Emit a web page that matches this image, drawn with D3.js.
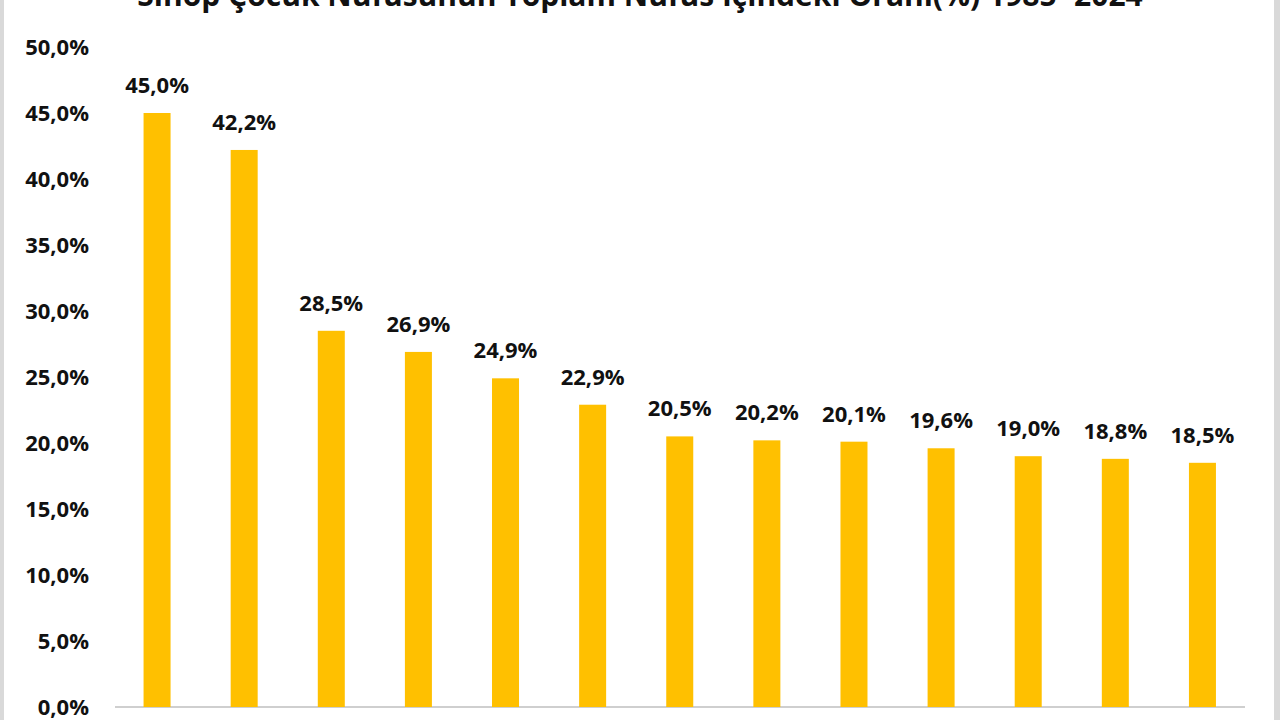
<!DOCTYPE html>
<html>
<head>
<meta charset="utf-8">
<script src="https://cdn.jsdelivr.net/npm/d3@7"></script>
<style>
  html, body { margin: 0; padding: 0; background: #ffffff; overflow: hidden; }
  svg { display: block; }
</style>
</head>
<body>
<svg id="chart" width="1280" height="720"></svg>
<script>
const title = "Sinop Çocuk Nüfusunun Toplam Nüfus İçindeki Oranı(%) 1985- 2024";
const categories = ["c1","c2","c3","c4","c5","c6","c7","c8","c9","c10","c11","c12","c13"];
const values = [45.0, 42.2, 28.5, 26.9, 24.9, 22.9, 20.5, 20.2, 20.1, 19.6, 19.0, 18.8, 18.5];
const yTicks = [0, 5, 10, 15, 20, 25, 30, 35, 40, 45, 50];

const fmt = v => v.toFixed(1).replace(".", ",") + "%";

const svg = d3.select("#chart");
const W = 1280, H = 720;
const FONT = "'Open Sans', 'DejaVu Sans', sans-serif";

// frame borders
svg.append("rect").attr("x", 0).attr("y", 0).attr("width", 4).attr("height", H).attr("fill", "#d9d9d9");
svg.append("rect").attr("x", 1274).attr("y", 0).attr("width", 6).attr("height", H).attr("fill", "#d9d9d9");

const x = d3.scaleBand().domain(categories).range([113.5, 1246]).paddingInner(0.69).paddingOuter(0.345);
const y = d3.scaleLinear().domain([0, 50]).range([707, 47]);

// title (cut off at top, as in the reference)
svg.append("text")
  .attr("x", 640).attr("y", 6)
  .attr("text-anchor", "middle")
  .attr("font-family", FONT)
  .attr("font-weight", "bold")
  .attr("font-size", 30)
  .attr("fill", "#111")
  .text(title);

// y axis
const yAxis = d3.axisLeft(y).tickValues(yTicks).tickFormat(fmt).tickSize(0).tickPadding(0);
const gy = svg.append("g").attr("transform", "translate(89,0)").call(yAxis);
gy.select(".domain").remove();
gy.selectAll("text")
  .attr("font-family", FONT)
  .attr("font-weight", "bold")
  .attr("font-size", 22)
  .attr("fill", "#111")
  .attr("dy", "0.36em");

// baseline
svg.append("line")
  .attr("x1", 115).attr("x2", 1245)
  .attr("y1", y(0)).attr("y2", y(0))
  .attr("stroke", "#bfbfbf").attr("stroke-width", 1.5);

// bars
svg.append("g").selectAll("rect")
  .data(values)
  .join("rect")
  .attr("x", (d, i) => x(categories[i]))
  .attr("width", x.bandwidth())
  .attr("y", d => y(d))
  .attr("height", d => y(0) - y(d))
  .attr("fill", "#FFC000");

// labels
svg.append("g").selectAll("text")
  .data(values)
  .join("text")
  .attr("x", (d, i) => x(categories[i]) + x.bandwidth() / 2)
  .attr("y", d => y(d) - 20)
  .attr("text-anchor", "middle")
  .attr("font-family", FONT)
  .attr("font-weight", "bold")
  .attr("font-size", 22)
  .attr("fill", "#111")
  .text(d => fmt(d));
</script>
</body>
</html>
